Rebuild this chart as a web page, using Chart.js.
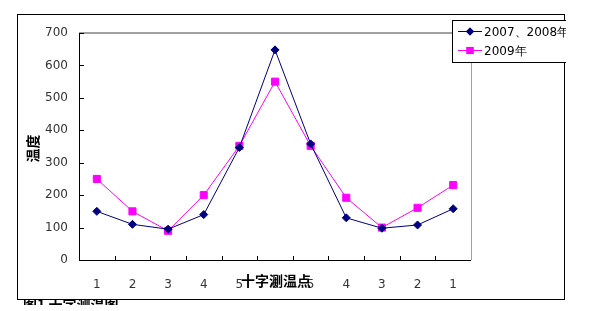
<!DOCTYPE html>
<html>
<head>
<meta charset="utf-8">
<script src="https://cdn.jsdelivr.net/npm/chart.js@4.4.0/dist/chart.umd.min.js"></script>
<style>
  html, body { margin: 0; padding: 0; background: #fff; }
  #wrap { width: 596px; height: 311px; position: relative; }
</style>
</head>
<body>
<div id="wrap"><canvas id="tempChart" width="596" height="311"></canvas></div>
<script>
// measuring points along the cross
const points = ['1', '2', '3', '4', '5', '6', '5', '4', '3', '2', '1'];
const temps0708 = [150, 110, 95, 140, 347, 648, 358, 130, 98, 108, 158];
const temps2009 = [250, 150, 90, 200, 352, 550, 352, 192, 100, 161, 231];
const yTicks = [0, 100, 200, 300, 400, 500, 600, 700];

const seriesNames = ['2007、2008年', '2009年'];
const navy = '#000080';
const pink = '#FF00FF';
const cjk = '"Noto Sans CJK SC", sans-serif';

// frame, inside ticks, titles and the hand drawn legend
const decoPlugin = {
    id: 'deco',
    beforeDraw(chart) {
        const ctx = chart.ctx;
        ctx.save();
        ctx.fillStyle = '#fff';
        ctx.fillRect(0, 0, chart.width, chart.height);
        ctx.restore();
    },
    afterDraw(chart) {
        const ctx = chart.ctx;
        const a = chart.chartArea;
        const xs = chart.scales.x;
        const ys = chart.scales.y;
        ctx.save();

        // outer frame
        ctx.strokeStyle = '#000';
        ctx.lineWidth = 1;
        ctx.strokeRect(17.5, 14.5, 547, 285);

        // plot border: gray top / right, black axes
        ctx.strokeStyle = '#a0a0a0';
        ctx.lineWidth = 2;
        ctx.beginPath();
        ctx.moveTo(a.left, a.top);
        ctx.lineTo(a.right, a.top);
        ctx.stroke();
        ctx.lineWidth = 1;
        ctx.beginPath();
        ctx.moveTo(a.right + 0.5, a.top);
        ctx.lineTo(a.right + 0.5, a.bottom);
        ctx.stroke();
        ctx.strokeStyle = '#000';
        ctx.beginPath();
        ctx.moveTo(a.left + 0.5, a.top);
        ctx.lineTo(a.left + 0.5, a.bottom + 0.5);
        ctx.lineTo(a.right, a.bottom + 0.5);
        ctx.stroke();

        // inside ticks
        ctx.beginPath();
        for (let i = 1; i < points.length; i++) {
            const x = Math.round((xs.getPixelForValue(i - 1) + xs.getPixelForValue(i)) / 2) + 0.5;
            ctx.moveTo(x, a.bottom);
            ctx.lineTo(x, a.bottom - 4);
        }
        yTicks.forEach(v => {
            const y = Math.round(ys.getPixelForValue(v)) + 0.5;
            ctx.moveTo(a.left, y);
            ctx.lineTo(a.left + 5, y);
        });
        ctx.stroke();

        // axis titles
        ctx.fillStyle = '#000';
        ctx.font = 'bold 14px ' + cjk;
        ctx.textAlign = 'center';
        ctx.textBaseline = 'middle';
        ctx.fillText('十字测温点', (a.left + a.right) / 2 + 1, 281);
        ctx.save();
        ctx.translate(33, (a.top + a.bottom) / 2 + 2);
        ctx.rotate(-Math.PI / 2);
        ctx.fillText('温度', 0, 0);
        ctx.restore();

        // caption, mostly cut off
        ctx.save();
        ctx.beginPath();
        ctx.rect(0, 300, chart.width, 5);
        ctx.clip();
        ctx.textAlign = 'left';
        ctx.textBaseline = 'top';
        ctx.font = 'bold 14px ' + cjk;
        ctx.fillText('图1 十字测温图', 23, 298);
        ctx.restore();

        // legend box, clipped at the frame
        ctx.save();
        ctx.beginPath();
        ctx.rect(0, 0, 566, chart.height);
        ctx.clip();
        ctx.fillStyle = '#fff';
        ctx.fillRect(452, 20, 120, 42);
        ctx.strokeStyle = '#000';
        ctx.strokeRect(452.5, 20.5, 120, 42);
        const rows = [31.5, 50.5];
        const cols = [navy, pink];
        const shapes = ['rectRot', 'rect'];
        const radii = [4, 5];
        rows.forEach((y, i) => {
            ctx.strokeStyle = cols[i];
            ctx.lineWidth = 1;
            ctx.beginPath();
            ctx.moveTo(458, y);
            ctx.lineTo(482, y);
            ctx.stroke();
            ctx.fillStyle = cols[i];
            Chart.helpers.drawPoint(ctx, { pointStyle: shapes[i], radius: radii[i], borderWidth: 0 }, 470, y);
            ctx.fill();
            ctx.fillStyle = '#000';
            ctx.font = '12px "DejaVu Sans", sans-serif';
            ctx.textAlign = 'left';
            ctx.textBaseline = 'middle';
            ctx.fillText(seriesNames[i], 484, y + 1);
        });
        ctx.restore();
        ctx.restore();
    }
};

new Chart(document.getElementById('tempChart'), {
    type: 'line',
    data: {
        labels: points,
        datasets: [{
            label: seriesNames[0],
            data: temps0708,
            borderColor: navy,
            backgroundColor: navy,
            borderWidth: 1,
            pointStyle: 'rectRot',
            pointRadius: 4,
            pointHoverRadius: 4,
            tension: 0
        }, {
            label: seriesNames[1],
            data: temps2009,
            borderColor: pink,
            backgroundColor: pink,
            borderWidth: 1,
            pointStyle: 'rect',
            pointRadius: 5,
            pointHoverRadius: 5,
            tension: 0
        }]
    },
    options: {
        responsive: false,
        animation: false,
        events: [],
        layout: { padding: { top: 33, right: 125, left: 0, bottom: 0 } },
        plugins: {
            legend: { display: false },
            tooltip: { enabled: false }
        },
        scales: {
            x: {
                offset: true,
                grid: { display: false },
                border: { display: false },
                ticks: {
                    color: '#333',
                    font: { family: '"DejaVu Sans", sans-serif', size: 12 },
                    padding: 10,
                    maxRotation: 0
                },
                afterFit: s => { s.height = 51; }
            },
            y: {
                min: 0,
                max: 700,
                grid: { display: false, drawTicks: false },
                border: { display: false },
                afterBuildTicks: s => { s.ticks = yTicks.map(v => ({ value: v })); },
                ticks: {
                    color: '#333',
                    font: { family: '"DejaVu Sans", sans-serif', size: 12 },
                    padding: 11
                },
                afterFit: s => { s.width = 79; }
            }
        }
    },
    plugins: [decoPlugin]
});
</script>
</body>
</html>
